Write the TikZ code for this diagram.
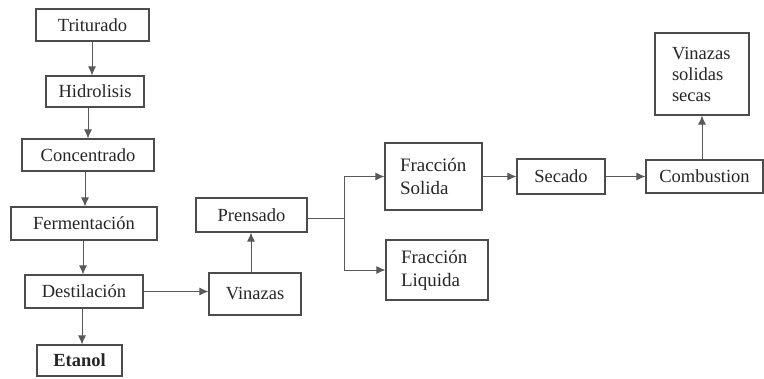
\documentclass[tikz,border=0pt]{standalone}
\usepackage{fontspec}
\setmainfont{Liberation Serif}
\usetikzlibrary{arrows.meta}
\begin{document}
\begin{tikzpicture}[x=1pt,y=-1pt,
  box/.style={draw=black!70,line width=1.1pt,inner sep=0pt,text=black!85,
    font=\fontsize{18.5}{23}\selectfont},
  tbox/.style={box,align=left,inner xsep=15pt},
  arr/.style={draw=black!65,line width=1pt,-{Latex[length=9pt,width=8pt]}},
  ln/.style={draw=black!65,line width=1pt}]
\useasboundingbox (0,0) rectangle (764,378);
\node[box,minimum width=113pt,minimum height=32pt] (tri) at (92.5,25) {Triturado};
\node[box,minimum width=98pt,minimum height=31pt] (hid) at (95,91.5) {Hidrolisis};
\node[box,minimum width=132pt,minimum height=32pt] (con) at (88,155) {Concentrado};
\node[box,minimum width=146pt,minimum height=33pt] (fer) at (84,223.5) {Fermentación};
\node[box,minimum width=118pt,minimum height=33pt] (des) at (84,291.5) {Destilación};
\node[box,minimum width=85pt,minimum height=31pt,font=\fontsize{18.5}{23}\selectfont\bfseries] (eta) at (79.5,360.5) {Etanol};
\node[box,minimum width=111pt,minimum height=34pt] (pre) at (251.5,215) {Prensado};
\node[box,minimum width=92pt,minimum height=42pt] (vin) at (255,294) {Vinazas};
\node[tbox,text width=67pt,minimum height=67pt,font=\fontsize{19}{23}\selectfont] (fs) at (433.5,176.5) {Fracción\\Solida};
\node[tbox,text width=72pt,minimum height=60pt,font=\fontsize{19}{23}\selectfont] (fl) at (437,270) {Fracción\\Liquida};
\node[box,minimum width=88pt,minimum height=35pt] (sec) at (561,176.5) {Secado};
\node[box,minimum width=117pt,minimum height=33pt] (com) at (704.5,176.5) {Combustion};
\node[tbox,inner xsep=17pt,text width=60pt,minimum height=82pt,font=\fontsize{18.5}{21}\selectfont] (vss) at (702,74) {Vinazas\\solidas\\secas};
\draw[arr] (tri.south -| 92,0) -- (hid.north -| 92,0);
\draw[arr] (hid.south -| 88,0) -- (con.north -| 88,0);
\draw[arr] (con.south -| 85,0) -- (fer.north -| 85,0);
\draw[arr] (fer.south -| 83,0) -- (des.north -| 83,0);
\draw[arr] (des.south -| 82,0) -- (eta.north -| 82,0);
\draw[arr] (des.east) -- (des.east -| vin.west);
\draw[arr] (vin.north -| 251,0) -- (pre.south -| 251,0);
\coordinate (br) at (344,218);
\draw[ln] (pre.east |- br) -- (br);
\draw[arr] (br) |- (fs.west);
\draw[arr] (br) |- (fl.west);
\draw[arr] (fs.east |- sec.west) -- (sec.west);
\draw[arr] (sec.east) -- (com.west);
\draw[arr] (com.north -| vss.south) -- (vss.south);
\end{tikzpicture}
\end{document}
